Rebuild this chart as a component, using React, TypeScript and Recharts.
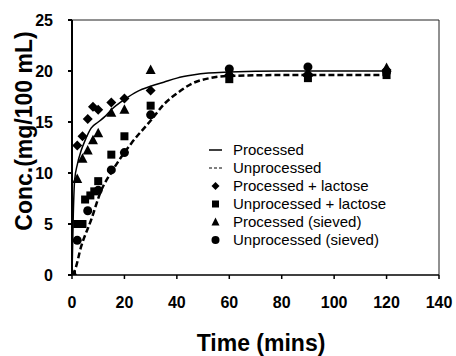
import React from 'react';
import { ComposedChart, Line, Scatter, XAxis, YAxis, Label, ReferenceLine } from 'recharts';

const FONT = '"Liberation Sans", Arial, sans-serif';

// Fitted curves
const processedCurveT = [0, 0.5, 1, 2, 3.5, 5, 7.3, 10, 12.4, 15, 20, 25, 30, 35, 40, 46, 52, 60, 80, 100, 120];
const processedCurveV = [0, 6, 9.3, 10.8, 12.2, 13.2, 14.4, 15.0, 15.5, 16.2, 17.2, 18.0, 18.5, 18.9, 19.3, 19.6, 19.8, 19.9, 20.0, 20.0, 20.0];
const unprocessedCurveT = [0, 1, 3.5, 7.3, 11, 15.6, 22.6, 30.2, 35.3, 40, 46, 52.5, 59, 80, 100, 120];
const unprocessedCurveV = [0, 0.4, 2.8, 5.4, 8.2, 10.3, 12.9, 15.2, 16.8, 17.8, 18.8, 19.3, 19.5, 19.6, 19.6, 19.6];

// Measured points
const procLactoseT = [0, 2, 4, 6, 8, 10, 15, 20, 30, 60, 90, 120];
const procLactoseV = [0, 12.7, 13.6, 15.3, 16.5, 16.2, 16.9, 17.3, 18.1, 19.6, 19.7, 20.1];
const unprocLactoseT = [0, 2, 4, 5, 7, 8.5, 10, 15, 20, 30, 60, 90, 120];
const unprocLactoseV = [0, 5.0, 5.0, 7.4, 7.8, 8.2, 9.2, 11.8, 13.6, 16.6, 19.2, 19.3, 19.6];
const procSievedT = [0, 2, 4, 6, 8, 10, 15, 20, 30, 60, 90, 120];
const procSievedV = [0, 9.4, 11.4, 12.2, 13.2, 13.9, 15.9, 16.2, 20.1, 19.9, 19.8, 20.3];
const unprocSievedT = [0, 2, 6, 10, 15, 20, 30, 60, 90, 120];
const unprocSievedV = [0, 3.4, 6.3, 8.3, 10.3, 12.0, 15.7, 20.2, 20.4, 19.9];

const xTicks = [0, 20, 40, 60, 80, 100, 120, 140];
const yTicks = [0, 5, 10, 15, 20, 25];

const legendNames = [
  'Processed',
  'Unprocessed',
  'Processed + lactose',
  'Unprocessed + lactose',
  'Processed (sieved)',
  'Unprocessed (sieved)',
];
const legendKinds = ['solid', 'dashed', 'diamond', 'square', 'triangle', 'circle'];

const zip = (t: number[], v: number[]) => t.map((x, i) => ({ t: x, v: v[i] }));

const Diamond = (p: any) => (
  <polygon points={`${p.cx},${p.cy - 5} ${p.cx + 5},${p.cy} ${p.cx},${p.cy + 5} ${p.cx - 5},${p.cy}`} fill="#000" />
);
const Square = (p: any) => <rect x={p.cx - 4} y={p.cy - 4} width={8} height={8} fill="#000" />;
const Triangle = (p: any) => (
  <polygon points={`${p.cx},${p.cy - 5.5} ${p.cx + 5},${p.cy + 4} ${p.cx - 5},${p.cy + 4}`} fill="#000" />
);
const Circle = (p: any) => <circle cx={p.cx} cy={p.cy} r={4.5} fill="#000" />;

const icon = (kind: string) => {
  const c = 7;
  switch (kind) {
    case 'solid':
      return <line x1={0} y1={c} x2={13} y2={c} stroke="#000" strokeWidth={1.5} />;
    case 'dashed':
      return <line x1={0} y1={c} x2={13} y2={c} stroke="#000" strokeWidth={1} strokeDasharray="3 2" />;
    case 'diamond':
      return <polygon points={`6.5,${c - 4} 10.5,${c} 6.5,${c + 4} 2.5,${c}`} fill="#000" />;
    case 'square':
      return <rect x={3} y={c - 3.5} width={7} height={7} fill="#000" />;
    case 'triangle':
      return <polygon points={`6.5,${c - 4.5} 10.5,${c + 3.5} 2.5,${c + 3.5}`} fill="#000" />;
    default:
      return <circle cx={6.5} cy={c} r={4} fill="#000" />;
  }
};

const LegendBox = () => (
  <div
    style={{
      position: 'absolute',
      left: 209,
      top: 141,
      width: 240,
      fontFamily: FONT,
      fontSize: 15,
      lineHeight: '18px',
      color: '#000',
    }}
  >
    {legendNames.map((n, i) => (
      <div key={n} style={{ display: 'flex', alignItems: 'center', height: 18, whiteSpace: 'nowrap' }}>
        <svg width={14} height={14} style={{ marginRight: 10, flex: 'none' }}>{icon(legendKinds[i])}</svg>
        <span>{n}</span>
      </div>
    ))}
  </div>
);

export default function App() {
  return (
    <div style={{ position: 'absolute', left: 0, top: 0, width: 456, height: 356, background: '#fff' }}>
      <ComposedChart width={456} height={356} margin={{ top: 20, right: 17, bottom: 0, left: 0 }}>
        <XAxis
          type="number"
          dataKey="t"
          domain={[0, 140]}
          ticks={xTicks}
          height={81}
          tickSize={4}
          tickMargin={18}
          stroke="#000"
          strokeWidth={1.5}
          tick={{ fill: '#000', fontSize: 16, fontWeight: 'bold', fontFamily: FONT }}
          allowDataOverflow
        >
          <Label
            content={() => (
              <text x={261} y={351} textAnchor="middle" fontFamily={FONT} fontWeight="bold" fontSize={23} fill="#000">
                Time (mins)
              </text>
            )}
          />
        </XAxis>
        <YAxis
          type="number"
          dataKey="v"
          domain={[0, 25]}
          ticks={yTicks}
          width={72}
          tickSize={4}
          tickMargin={15}
          stroke="#000"
          strokeWidth={2}
          tick={{ fill: '#000', fontSize: 16, fontWeight: 'bold', fontFamily: FONT }}
          allowDataOverflow
        >
          <Label
            content={() => (
              <text
                x={32}
                y={131}
                transform="rotate(-90 32 131)"
                textAnchor="middle"
                fontFamily={FONT}
                fontWeight="bold"
                fontSize={23}
                fill="#000"
              >
                Conc.(mg/100 mL)
              </text>
            )}
          />
        </YAxis>
        <ReferenceLine y={25} stroke="#222" strokeWidth={1} />
        <ReferenceLine x={140} stroke="#222" strokeWidth={1} />
        <Line
          data={zip(processedCurveT, processedCurveV)}
          dataKey="v"
          type="monotone"
          stroke="#000"
          strokeWidth={1.5}
          dot={false}
          name="Processed"
          isAnimationActive={false}
        />
        <Line
          data={zip(unprocessedCurveT, unprocessedCurveV)}
          dataKey="v"
          type="monotone"
          stroke="#000"
          strokeWidth={2.5}
          strokeDasharray="6 3"
          dot={false}
          name="Unprocessed"
          isAnimationActive={false}
        />
        <Scatter data={zip(procLactoseT, procLactoseV)} dataKey="v" shape={Diamond} name="Processed + lactose" isAnimationActive={false} />
        <Scatter data={zip(unprocLactoseT, unprocLactoseV)} dataKey="v" shape={Square} name="Unprocessed + lactose" isAnimationActive={false} />
        <Scatter data={zip(procSievedT, procSievedV)} dataKey="v" shape={Triangle} name="Processed (sieved)" isAnimationActive={false} />
        <Scatter data={zip(unprocSievedT, unprocSievedV)} dataKey="v" shape={Circle} name="Unprocessed (sieved)" isAnimationActive={false} />
      </ComposedChart>
      <LegendBox />
    </div>
  );
}
